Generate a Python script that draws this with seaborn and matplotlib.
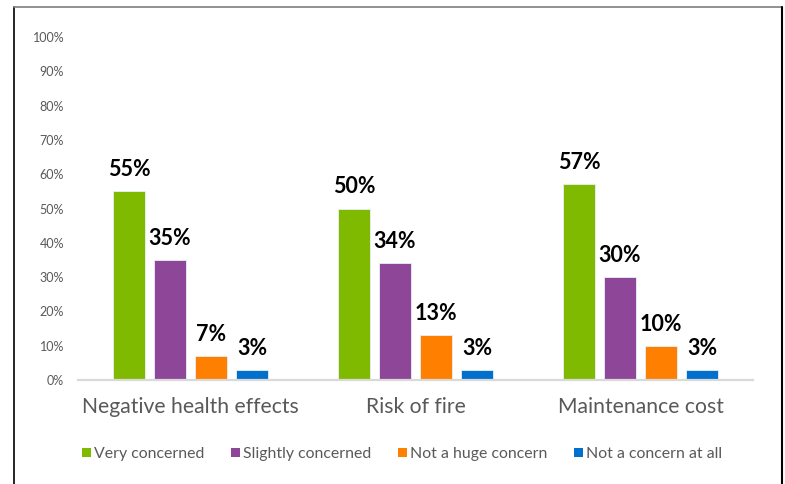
import matplotlib
matplotlib.use("Agg")
import matplotlib.pyplot as plt
import seaborn as sns
import pandas as pd
from matplotlib.lines import Line2D
from matplotlib.patches import Patch

categories = ["Negative health effects", "Risk of fire", "Maintenance cost"]
series = ["Very concerned", "Slightly concerned", "Not a huge concern", "Not a concern at all"]
very_concerned = [55, 50, 57]
slightly_concerned = [35, 34, 30]
not_huge_concern = [7, 13, 10]
not_concern_at_all = [3, 3, 3]
y_ticks = [0, 10, 20, 30, 40, 50, 60, 70, 80, 90, 100]
colors = ["#80BA00", "#8E4798", "#FF8000", "#0070CC"]

values = [very_concerned, slightly_concerned, not_huge_concern, not_concern_at_all]
rows = []
for s, vals in zip(series, values):
    for c, v in zip(categories, vals):
        rows.append({"category": c, "series": s, "value": v})
df = pd.DataFrame(rows)

sns.set_style("white")
plt.rcParams["font.family"] = ["Lato", "DejaVu Sans"]

fig = plt.figure(figsize=(7.85, 4.84), dpi=100)
ax = fig.add_axes([78/785, 1-380/484, 675/785, 343/484])

sns.barplot(data=df, x="category", y="value", hue="series", order=categories,
            hue_order=series, palette=colors, width=0.729, gap=0.22,
            edgecolor="#e8f0f8", linewidth=0.6, legend=False, ax=ax, saturation=1)

for cont in ax.containers:
    ax.bar_label(cont, labels=[f"{int(v)}%" for v in cont.datavalues],
                 padding=8, fontsize=15.5, fontweight="bold", color="black")

ax.set_ylim(0, 100)
ax.set_xlim(-0.5, 2.5)
ax.set_yticks(y_ticks)
ax.set_yticklabels([f"{t}%" for t in y_ticks], color="#595959", fontsize=9)
ax.tick_params(axis="y", length=0, pad=10)
ax.tick_params(axis="x", length=0, pad=12, labelsize=15.2, labelcolor="#595959")
ax.set_xlabel("")
ax.set_ylabel("")
for sp in ["top", "right", "left"]:
    ax.spines[sp].set_visible(False)
ax.spines["bottom"].set_color("#d9d9d9")
ax.spines["bottom"].set_linewidth(1.6)

handles = [Patch(facecolor=c, edgecolor="none") for c in colors]
fig.legend(handles, series, loc="center", bbox_to_anchor=(402/785, 1-454/484),
           ncol=4, frameon=False, fontsize=11.4, labelcolor="#595959",
           handlelength=0.57, handleheight=0.57, handletextpad=0.22, columnspacing=1.65)

# outer frame
fig.add_artist(Line2D([14/785, 14/785], [0, 1-7/484], transform=fig.transFigure, color="black", lw=1.2))
fig.add_artist(Line2D([14/785, 782/785], [1-7/484, 1-7/484], transform=fig.transFigure, color="#7f7f7f", lw=1.2))
fig.add_artist(Line2D([782/785, 782/785], [0, 1-7/484], transform=fig.transFigure, color="black", lw=1.5))

fig.savefig("out.png", dpi=100)
